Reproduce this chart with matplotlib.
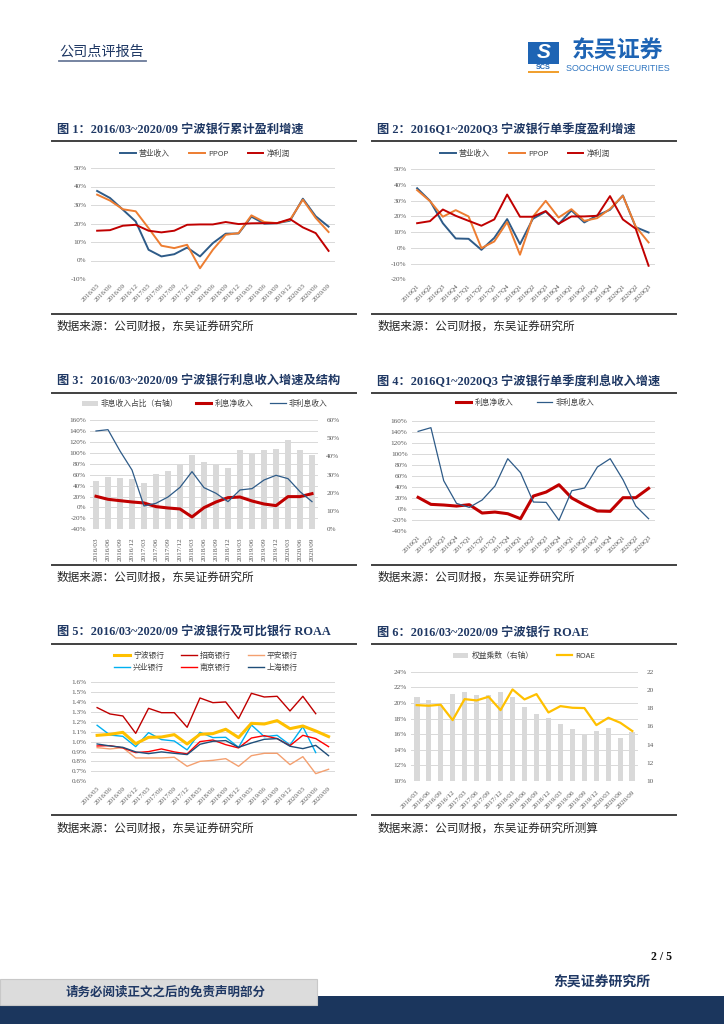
import matplotlib
matplotlib.use('Agg')
import matplotlib.pyplot as plt
from matplotlib.patches import Rectangle, Patch
from matplotlib.lines import Line2D
import numpy as np

W, H = 724, 1024
SER = ['Liberation Serif', 'Noto Sans CJK SC', 'DejaVu Sans']
CJK = ['Noto Sans CJK SC', 'DejaVu Sans']
plt.rcParams['font.family'] = SER

# ---------------- data ----------------
months = ['2016/03', '2016/06', '2016/09', '2016/12', '2017/03', '2017/06', '2017/09', '2017/12',
          '2018/03', '2018/06', '2018/09', '2018/12', '2019/03', '2019/06', '2019/09', '2019/12',
          '2020/03', '2020/06', '2020/09']
quarters = ['2016Q1', '2016Q2', '2016Q3', '2016Q4', '2017Q1', '2017Q2', '2017Q3', '2017Q4',
            '2018Q1', '2018Q2', '2018Q3', '2018Q4', '2019Q1', '2019Q2', '2019Q3', '2019Q4',
            '2020Q1', '2020Q2', '2020Q3']

# Fig 1: cumulative growth (%)
c1_rev = [37.6, 33.8, 27.5, 21.1, 5.8, 2.2, 3.4, 7.0, 2.2, 9.4, 14.5, 14.6, 23.7, 19.9, 20.2, 21.5, 33.4, 23.9, 18.3]
c1_ppop = [35.6, 32.4, 27.7, 26.6, 17.5, 8.0, 6.7, 8.5, -4.2, 5.8, 13.9, 14.8, 24.4, 20.8, 20.2, 22.0, 32.9, 23.0, 15.4]
c1_np = [16.1, 16.4, 18.8, 19.3, 16.1, 15.2, 16.1, 19.3, 19.5, 19.5, 20.8, 19.7, 20.1, 20.2, 20.2, 22.4, 17.9, 14.8, 5.2]

# Fig 2: single-quarter growth (%)
c2_rev = [37.8, 29.8, 15.6, 5.9, 5.7, -1.3, 6.3, 18.2, 2.3, 18.4, 23.0, 15.0, 23.7, 16.1, 20.5, 24.1, 33.2, 13.1, 9.7]
c2_ppop = [36.6, 29.6, 19.7, 23.9, 19.9, -0.2, 4.0, 16.3, -4.4, 19.7, 29.8, 19.2, 24.5, 17.1, 18.8, 24.7, 33.0, 13.5, 3.4]
c2_np = [15.6, 16.9, 24.3, 20.3, 17.1, 14.0, 18.0, 33.8, 19.7, 19.7, 23.3, 15.2, 19.9, 19.9, 20.3, 32.8, 18.0, 12.1, -11.4]

# Fig 3: interest income growth & structure
c3_share = [26.5, 28.7, 28.2, 27.8, 25.4, 30.2, 32.2, 35.3, 40.6, 36.9, 35.5, 33.8, 43.3, 41.3, 43.5, 44.1, 49.2, 43.3, 40.6]
c3_nii = [20.4, 14.9, 12.4, 10.0, 8.2, 1.5, -1.0, -2.8, -17.4, -0.4, 10.0, 17.9, 19.1, 11.8, 6.3, 3.3, 19.8, 19.8, 25.2]
c3_nonii = [139.9, 142.3, 103.3, 68.5, 2.7, 7.6, 19.1, 36.8, 65.5, 36.2, 25.9, 10.6, 32.0, 34.4, 50.2, 58.8, 52.7, 28.9, 10.6]

# Fig 4: single-quarter interest income growth
c4_nii = [20.6, 7.9, 6.7, 4.8, 7.3, -7.9, -6.1, -9.1, -18.2, 23.0, 30.3, 43.6, 19.4, 6.7, -4.2, -4.8, 20.0, 20.0, 37.0]
c4_nonii = [140.6, 147.3, 50.9, 9.7, 2.4, 15.8, 41.2, 90.9, 65.5, 12.1, 11.5, -21.2, 32.7, 37.6, 75.8, 90.9, 52.7, 4.8, -18.2]

# Fig 5: ROAA (%)
roaa_nb = [1.063, 1.073, 1.093, 0.979, 1.043, 1.046, 1.070, 0.976, 1.073, 1.080, 1.124, 1.040, 1.184, 1.177, 1.211, 1.130, 1.157, 1.107, 1.050]
roaa_cmb = [1.342, 1.278, 1.258, 1.083, 1.335, 1.291, 1.291, 1.144, 1.439, 1.392, 1.399, 1.231, 1.486, 1.449, 1.456, 1.308, 1.456, 1.281, np.nan]
roaa_pab = [0.939, 0.926, 0.939, 0.835, 0.835, 0.835, 0.842, 0.751, 0.801, 0.811, 0.828, 0.751, 0.858, 0.882, 0.882, 0.768, 0.848, 0.677, 0.721]
roaa_cib = [1.164, 1.066, 1.053, 0.949, 1.090, 1.020, 1.006, 0.916, 1.093, 1.040, 1.043, 0.942, 1.167, 1.050, 1.063, 0.966, 1.150, 0.889, np.nan]
roaa_njb = [0.956, 0.959, 0.936, 0.889, 0.899, 0.926, 0.896, 0.876, 1.000, 1.016, 0.969, 0.936, 1.036, 1.060, 1.030, 0.959, 1.063, 1.030, 0.949]
roaa_shb = [0.976, 0.956, 0.942, 0.896, 0.879, 0.896, 0.882, 0.869, 0.973, 1.003, 1.010, 0.942, 0.986, 1.023, 1.030, 0.953, 0.929, 0.962, 0.858]

# Fig 6: ROAE (%) and equity multiplier
c6_mult = [19.21, 18.88, 18.34, 19.54, 19.73, 19.43, 19.43, 19.76, 19.21, 18.12, 17.31, 16.87, 16.25, 15.70, 15.05, 15.48, 15.81, 14.75, 15.37]
c6_roae = [19.72, 19.64, 19.77, 17.80, 20.49, 20.32, 20.79, 19.08, 21.73, 20.45, 21.13, 18.78, 19.59, 19.38, 19.34, 17.16, 18.10, 17.46, 16.40]

# ---------------- colours ----------------
NAVY = '#1F3864'
BLUE = '#2E5B88'
ORANGE = '#ED7D31'
RED = '#C00000'
GRID = '#D9D9D9'
BARC = '#D9D9D9'
GOLD = '#FFC000'
TICKC = '#595959'

fig = plt.figure(figsize=(7.24, 10.24), dpi=100)


def ax_px(x0, y0, x1, y1):
    return fig.add_axes([x0 / W, 1 - y1 / H, (x1 - x0) / W, (y1 - y0) / H])


def ftext(x, y, s, **kw):
    return fig.text(x / W, 1 - y / H, s, **kw)


def hline(x0, x1, y, color, lw):
    fig.add_artist(Line2D([x0 / W, x1 / W], [1 - y / H, 1 - y / H], color=color, lw=lw))


def frame(x0, title, source, ty, ly, sy, srcy):
    ftext(x0 + 5, ty, title, fontsize=8.8, fontweight='bold', color=NAVY, va='center', ha='left', family=SER)
    hline(x0, x0 + 304, ly, '#404040', 1.4)
    hline(x0, x0 + 304, sy, '#404040', 1.4)
    ftext(x0 + 5, srcy, source, fontsize=8.4, color='#262626', va='center', ha='left', family=CJK)


def style(ax, ylim, yticks, labels, xlabels, rot=45):
    ax.set_xlim(-0.5, len(xlabels) - 0.5)
    ax.set_ylim(*ylim)
    ax.set_yticks(yticks)
    ax.set_yticklabels(labels)
    ax.grid(axis='y', color=GRID, lw=0.7)
    ax.set_axisbelow(True)
    for s in ax.spines.values():
        s.set_visible(False)
    ax.tick_params(length=0, labelsize=5.2, colors=TICKC, pad=3)
    ax.set_xticks(range(len(xlabels)))
    if rot == 45:
        ax.set_xticklabels(xlabels, rotation=45, ha='right', rotation_mode='anchor', fontsize=5.0)
    else:
        ax.set_xticklabels(xlabels, rotation=90, ha='center', va='top', fontsize=5.0)


def leg(handles, labels, cx, cy, ncol, hl=2.0, cs=2.5):
    fig.legend(handles, labels, loc='center', bbox_to_anchor=(cx / W, 1 - cy / H), ncol=ncol,
               frameon=False, handlelength=hl, handletextpad=0.4, columnspacing=cs,
               prop={'family': CJK, 'size': 5.6}, labelcolor='#404040')


def dual(box, xlabels, bar_vals, bar_w, rlim, rticks, rlabels, llim, lticks, llabels, rot):
    axb = ax_px(*box)
    axl = axb.twinx()
    axb.bar(x, bar_vals, width=bar_w, color=BARC, zorder=2)
    axb.set_xlim(-0.5, 18.5)
    axb.set_ylim(*rlim)
    for lv in lticks:
        axb.axhline(rlim[0] + (lv - llim[0]) / (llim[1] - llim[0]) * (rlim[1] - rlim[0]),
                    color=GRID, lw=0.7, zorder=0)
    axb.yaxis.tick_right()
    axb.set_yticks(rticks)
    axb.set_yticklabels(rlabels)
    axb.set_xticks(range(19))
    if rot == 90:
        axb.set_xticklabels(xlabels, rotation=90, ha='center', va='top', fontsize=5.0)
    else:
        axb.set_xticklabels(xlabels, rotation=45, ha='right', rotation_mode='anchor', fontsize=5.0)
    axb.tick_params(length=0, labelsize=5.2, colors=TICKC, pad=6)
    axl.yaxis.tick_left()
    axl.set_ylim(*llim)
    axl.set_xlim(-0.5, 18.5)
    axl.set_yticks(lticks)
    axl.set_yticklabels(llabels)
    axl.tick_params(length=0, labelsize=5.2, colors=TICKC, pad=3)
    for a in (axb, axl):
        for s in a.spines.values():
            s.set_visible(False)
    return axb, axl


x = np.arange(19)
src = '数据来源：公司财报，东吴证券研究所'

# ---------------- header ----------------
ftext(59, 52, '公司点评报告', fontsize=10.2, color=NAVY, va='center', ha='left', family=CJK)
hline(59, 146, 61, '#6B7B9A', 1.3)
fig.add_artist(Rectangle((528 / W, 1 - 64 / H), 31 / W, 22 / H, transform=fig.transFigure,
                         facecolor='#1E64B4', edgecolor='none'))
ftext(543.5, 53, 'S', fontsize=15, color='white', fontweight='bold', style='italic', va='center', ha='center',
      family=['Liberation Sans', 'DejaVu Sans'])
ftext(543.5, 67.5, 'SCS', fontsize=5.2, color='#1E64B4', fontweight='bold', va='center', ha='center',
      family=['Liberation Sans', 'DejaVu Sans'])
fig.add_artist(Rectangle((528 / W, 1 - 72.5 / H), 31 / W, 2 / H, transform=fig.transFigure,
                         facecolor='#F0A030', edgecolor='none'))
ftext(617, 50.5, '东吴证券', fontsize=16.5, color='#1E64B4', fontweight='bold', va='center', ha='center', family=CJK)
ftext(618, 68.5, 'SOOCHOW SECURITIES', fontsize=6.4, color='#2F75C0', va='center', ha='center',
      family=['Liberation Sans Narrow', 'Liberation Sans', 'DejaVu Sans'])

# ---------------- Fig 1 ----------------
frame(52, '图 1：2016/03~2020/09 宁波银行累计盈利增速', src, 130, 141, 314, 326)
ax1 = ax_px(90.7, 168, 335, 279)
l1, = ax1.plot(x, c1_rev, color=BLUE, lw=1.4)
l2, = ax1.plot(x, c1_ppop, color=ORANGE, lw=1.4)
l3, = ax1.plot(x, c1_np, color=RED, lw=1.4)
yt = [-10, 0, 10, 20, 30, 40, 50]
style(ax1, (-10, 50), yt, [f'{v}%' for v in yt], months)
leg([l1, l2, l3], ['营业收入', 'PPOP', '净利润'], 205, 154, 3)

# ---------------- Fig 2 ----------------
frame(372, '图 2：2016Q1~2020Q3 宁波银行单季度盈利增速', src, 130, 141, 314, 326)
ax2 = ax_px(410.7, 169, 655, 279.3)
m1, = ax2.plot(x, c2_rev, color=BLUE, lw=1.4)
m2, = ax2.plot(x, c2_ppop, color=ORANGE, lw=1.4)
m3, = ax2.plot(x, c2_np, color=RED, lw=1.4)
yt = [-20, -10, 0, 10, 20, 30, 40, 50]
style(ax2, (-20, 50), yt, [f'{v}%' for v in yt], quarters)
leg([m1, m2, m3], ['营业收入', 'PPOP', '净利润'], 525, 154, 3)

# ---------------- Fig 3 ----------------
frame(52, '图 3：2016/03~2020/09 宁波银行利息收入增速及结构', src, 382, 393, 565, 577)
lt = list(range(-40, 161, 20))
rt = list(range(0, 61, 10))
ax3b, ax3 = dual((90, 420, 318, 529.3), months, c3_share, 0.45, (0, 60), rt, [f'{v}%' for v in rt],
                 (-40, 160), lt, [f'{v}%' for v in lt], 90)
n1, = ax3.plot(x, c3_nii, color=RED, lw=2.2)
n2, = ax3.plot(x, c3_nonii, color=BLUE, lw=0.9)
leg([Patch(facecolor=BARC), n1, n2], ['非息收入占比（右轴）', '利息净收入', '非利息收入'], 205, 404, 3, cs=2.2)

# ---------------- Fig 4 ----------------
frame(372, '图 4：2016Q1~2020Q3 宁波银行单季度利息收入增速', src, 382, 393, 565, 577)
ax4 = ax_px(411.7, 420.7, 655, 530.7)
p1, = ax4.plot(x, c4_nii, color=RED, lw=2.2)
p2, = ax4.plot(x, c4_nonii, color=BLUE, lw=0.9)
style(ax4, (-40, 160), lt, [f'{v}%' for v in lt], quarters)
leg([p1, p2], ['利息净收入', '非利息收入'], 525, 403, 2, cs=3.0)

# ---------------- Fig 5 ----------------
frame(52, '图 5：2016/03~2020/09 宁波银行及可比银行 ROAA', src, 633, 644, 815, 828)
ax5 = ax_px(90.7, 682, 335, 781.3)
q1, = ax5.plot(x, roaa_nb, color=GOLD, lw=2.2, zorder=5)
q2, = ax5.plot(x, roaa_cmb, color=RED, lw=1.0)
q3, = ax5.plot(x, roaa_pab, color='#F4A070', lw=1.0)
q4, = ax5.plot(x, roaa_cib, color='#00B0F0', lw=1.0)
q5, = ax5.plot(x, roaa_njb, color='#FF0000', lw=1.0)
q6, = ax5.plot(x, roaa_shb, color='#1F4E79', lw=1.0)
yt = [0.6, 0.7, 0.8, 0.9, 1.0, 1.1, 1.2, 1.3, 1.4, 1.5, 1.6]
style(ax5, (0.6, 1.6), yt, [f'{v:.1f}%' for v in yt], months)
leg([q1, q4, q2, q5, q3, q6], ['宁波银行', '兴业银行', '招商银行', '南京银行', '平安银行', '上海银行'],
    206, 662, 3, cs=2.2)

# ---------------- Fig 6 ----------------
frame(372, '图 6：2016/03~2020/09 宁波银行 ROAE', src + '测算', 633, 644, 815, 828)
lt6 = list(range(10, 25, 2))
rt6 = list(range(10, 23, 2))
ax6b, ax6 = dual((410.7, 671.7, 638.3, 781), months, c6_mult, 0.47, (10, 22), rt6, [str(v) for v in rt6],
                 (10, 24), lt6, [f'{v}%' for v in lt6], 45)
r1, = ax6.plot(x, c6_roae, color=GOLD, lw=1.6)
leg([Patch(facecolor=BARC), r1], ['权益乘数（右轴）', 'ROAE'], 524, 656, 2, cs=3.0)

# ---------------- footer ----------------
ftext(672, 957, '2 / 5', fontsize=8.5, fontweight='bold', color='#111111', va='center', ha='right', family=SER)
ftext(602, 983, '东吴证券研究所', fontsize=10, fontweight='bold', color=NAVY, va='center', ha='center', family=CJK)
fig.add_artist(Rectangle((0, 0), 1, 28 / H, transform=fig.transFigure, facecolor='#1B365D', edgecolor='none'))
fig.add_artist(Rectangle((0, 1 - 1005 / H), 317 / W, 26 / H, transform=fig.transFigure,
                         facecolor='#DCDCDC', edgecolor='#C8C8C8', lw=0.8))
ftext(166, 992, '请务必阅读正文之后的免责声明部分', fontsize=9, fontweight='bold', color=NAVY,
      va='center', ha='center', family=CJK)

fig.savefig('out.png', dpi=100)
